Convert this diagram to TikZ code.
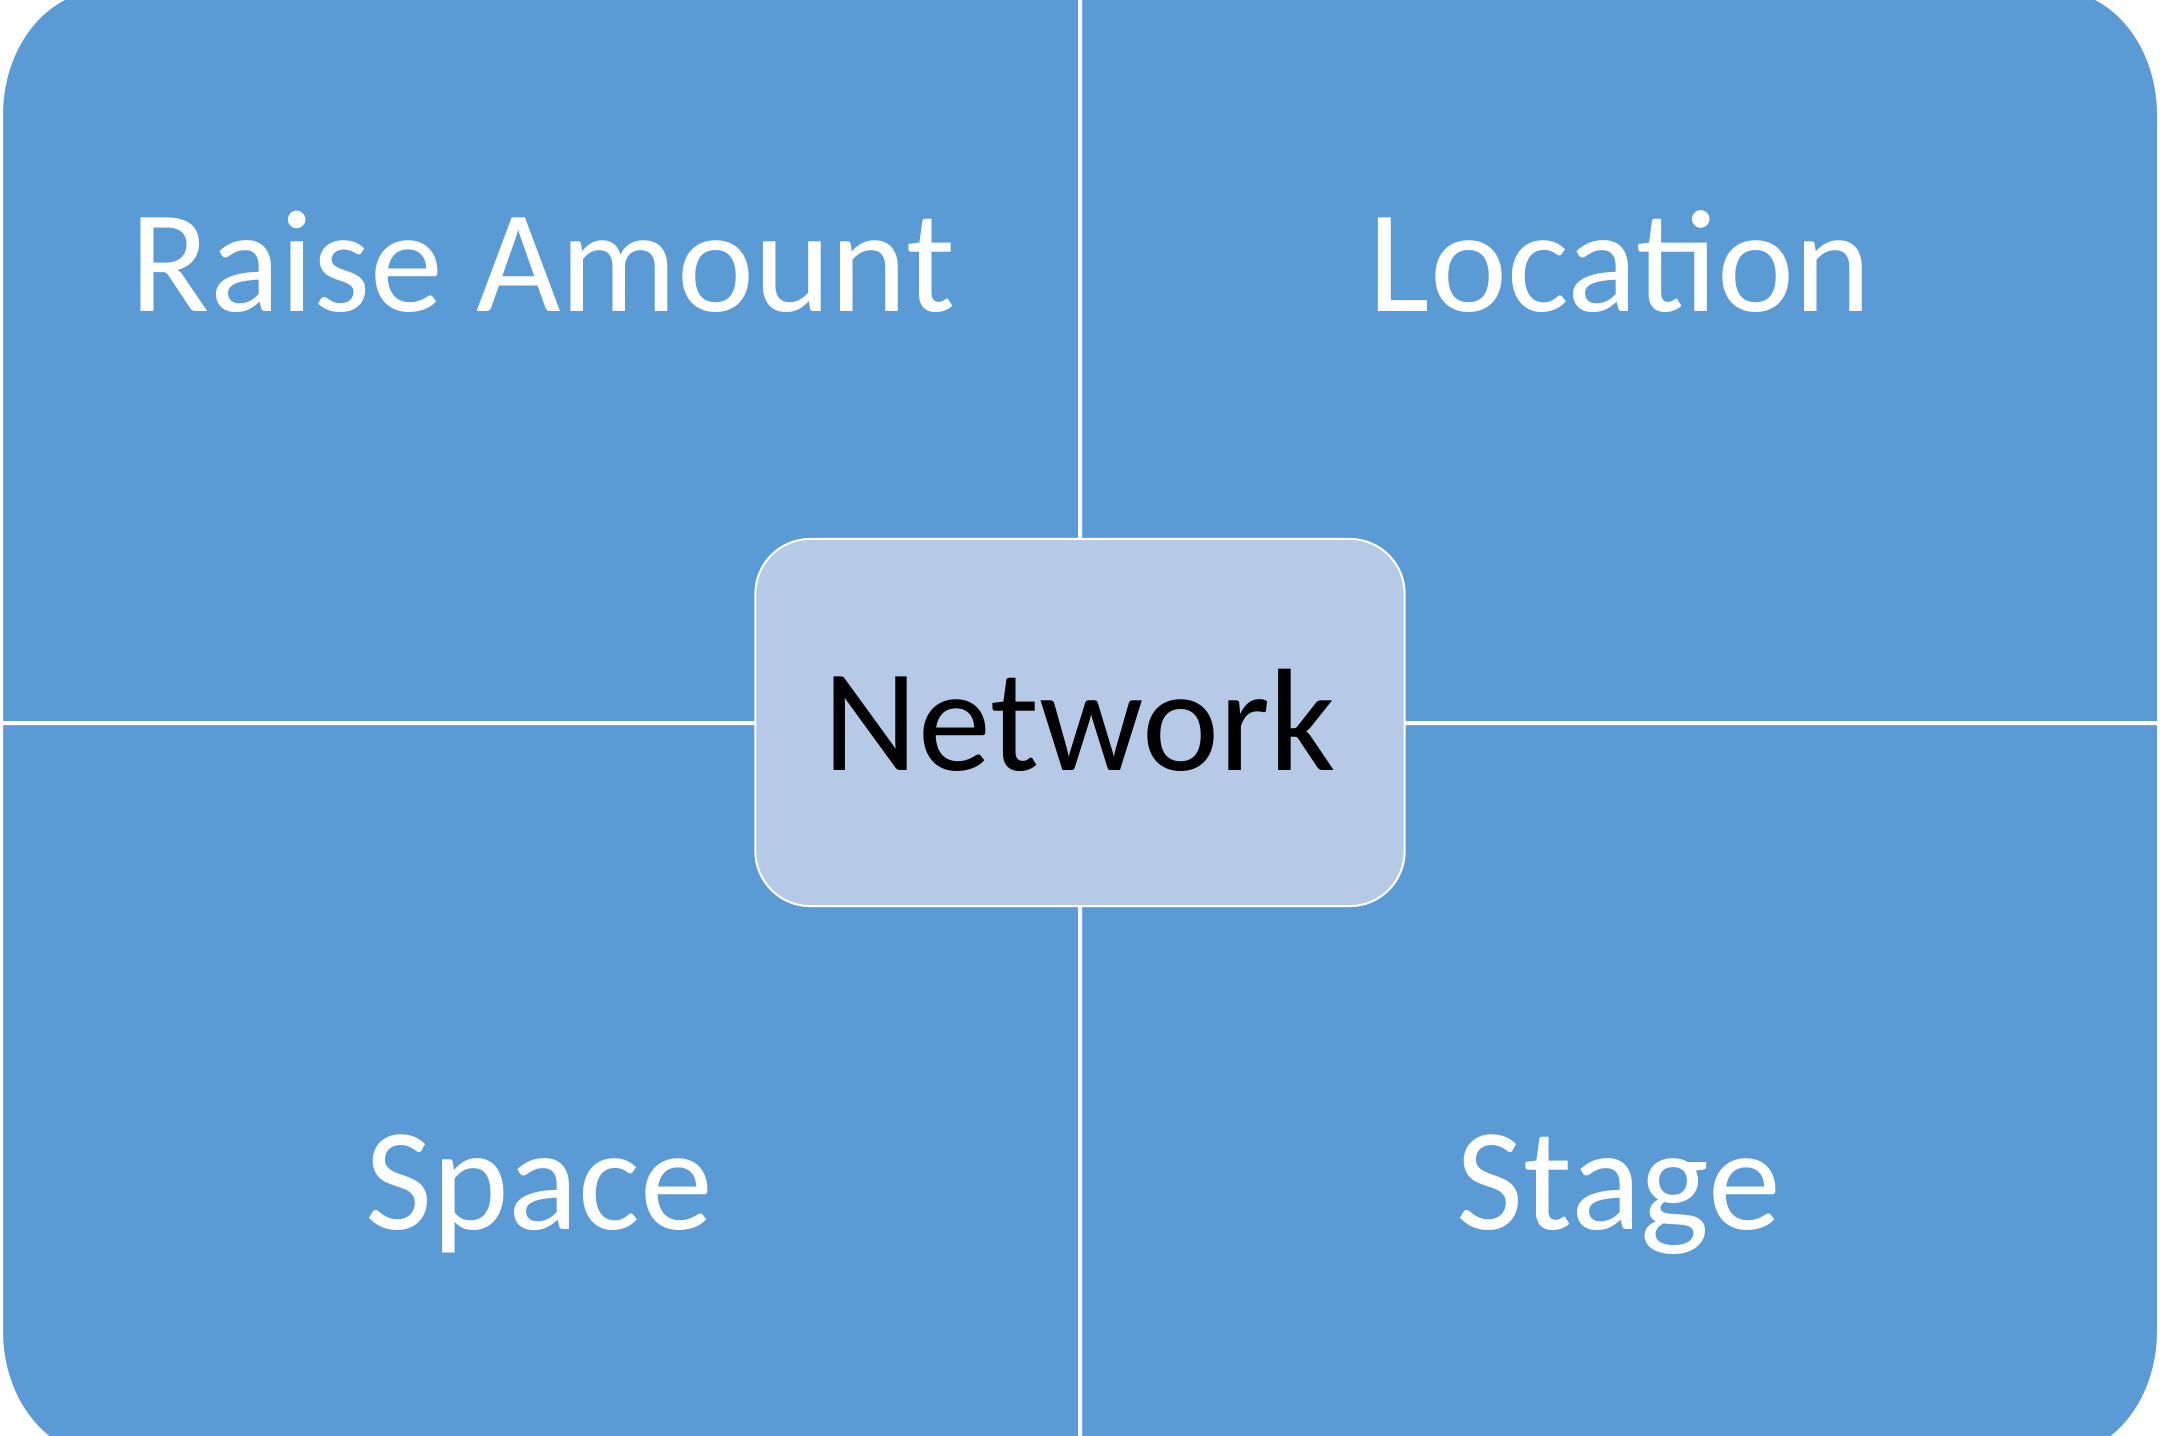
\documentclass[tikz,border=0pt]{standalone}
\usepackage{fontspec}
\setmainfont{Carlito}
\definecolor{quadblue}{HTML}{5B9BD5}
\definecolor{hubblue}{HTML}{B6CAE8}
\tikzset{
  quad/.style= {fill=quadblue, draw=white, line width=0.02cm},
  hub/.style= {fill=hubblue, draw=white, line width=0.02cm, rounded corners=0.55cm,
    minimum width=6.49cm, minimum height=3.67cm, text height=0.96cm, text depth=0cm},
  lbl/.style= {text=white, anchor=base},
}

\begin{document}
\begin{tikzpicture}[x=0.01cm, y=-0.01cm, font=\fontsize{41.5}{50}\selectfont]
  \useasboundingbox (0,0) rectangle (2160,1435);
  \clip (0,0) rectangle (2160,1435);

  % the four quadrants
  \path [quad] (1079,722) -- (2,722) -- (2,115)
    arc [start angle=180, end angle=270, x radius=100, y radius=125] -- (1079,-10) -- cycle;
  \path [quad] (1081,722) -- (1081,-10) -- (2058,-10)
    arc [start angle=270, end angle=360, x radius=100, y radius=125] -- (2158,722) -- cycle;
  \path [quad] (1079,724) -- (1079,1456) -- (102,1456)
    arc [start angle=90, end angle=180, x radius=100, y radius=125] -- (2,724) -- cycle;
  \path [quad] (1081,724) -- (2158,724) -- (2158,1331)
    arc [start angle=0, end angle=90, x radius=100, y radius=125] -- (1081,1456) -- cycle;

  \node [lbl] (raise) at (543,311) {Raise Amount} ;
  \node [lbl] (loc) at (1620,311) {Location} ;
  \node [lbl] (space) at (539,1229) {Space} ;
  \node [lbl] (stage) at (1619,1229) {Stage} ;

  \node [hub] (net) at (1080,722.5) {Network} ;
\end{tikzpicture}
\end{document}
